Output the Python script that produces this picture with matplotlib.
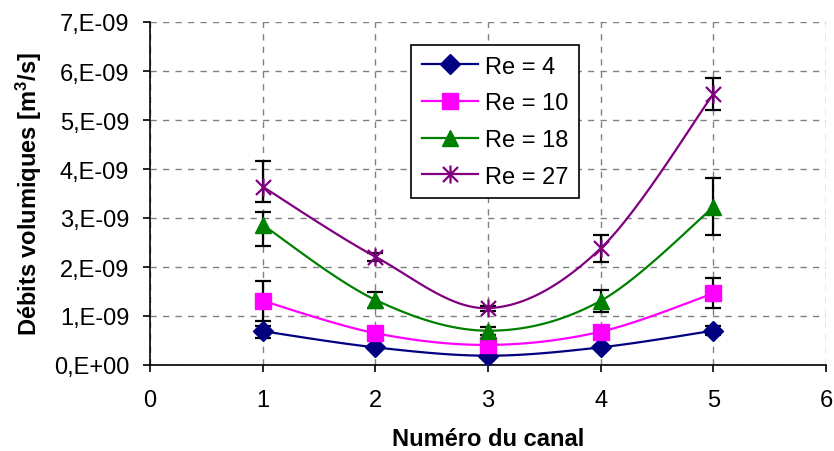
import numpy as np
import matplotlib.pyplot as plt
from matplotlib.path import Path
from matplotlib.ticker import FuncFormatter

plt.rcParams['font.family'] = ['Liberation Sans', 'DejaVu Sans']
plt.rcParams['mathtext.fontset'] = 'custom'
plt.rcParams['mathtext.rm'] = 'Liberation Sans:bold'
plt.rcParams['mathtext.bf'] = 'Liberation Sans:bold'
plt.rcParams['mathtext.default'] = 'bf'

# données : numéro du canal et débits (m3/s)
canaux = [1, 2, 3, 4, 5]
labels = ['Re = 4', 'Re = 10', 'Re = 18', 'Re = 27']
re4 = [0.69e-9, 0.36e-9, 0.19e-9, 0.36e-9, 0.70e-9]
re10 = [1.31e-9, 0.65e-9, 0.41e-9, 0.68e-9, 1.46e-9]
re18 = [2.86e-9, 1.33e-9, 0.70e-9, 1.31e-9, 3.22e-9]
re27 = [3.64e-9, 2.21e-9, 1.16e-9, 2.38e-9, 5.53e-9]
# barres d'erreur (bas, haut)
err4_bas = [0.13e-9, 0.03e-9, 0.02e-9, 0.03e-9, 0.09e-9]
err4_haut = [0.11e-9, 0.03e-9, 0.02e-9, 0.03e-9, 0.10e-9]
err10_bas = [0.41e-9, 0.05e-9, 0.03e-9, 0.05e-9, 0.30e-9]
err10_haut = [0.40e-9, 0.05e-9, 0.03e-9, 0.05e-9, 0.32e-9]
err18_bas = [0.44e-9, 0.17e-9, 0.08e-9, 0.23e-9, 0.56e-9]
err18_haut = [0.27e-9, 0.17e-9, 0.08e-9, 0.23e-9, 0.60e-9]
err27_bas = [0.32e-9, 0.08e-9, 0.05e-9, 0.28e-9, 0.33e-9]
err27_haut = [0.53e-9, 0.08e-9, 0.05e-9, 0.28e-9, 0.33e-9]

couleurs = ['#000080', '#FF00FF', '#008000', '#800080']

# marqueur étoile façon Excel (X + trait vertical)
etoile = Path([(-1, -1), (1, 1), (-1, 1), (1, -1), (0, -1.2), (0, 1.2)],
              [Path.MOVETO, Path.LINETO, Path.MOVETO, Path.LINETO, Path.MOVETO, Path.LINETO])
marqueurs = ['D', 's', '^', etoile]
tailles = [10, 11, 12, 13]


def lissage(x, y, n=30):
    # courbe lissée type Catmull-Rom (comme Excel)
    x = np.asarray(x, float)
    y = np.asarray(y, float)
    px = np.concatenate([[x[0]], x, [x[-1]]])
    py = np.concatenate([[y[0]], y, [y[-1]]])
    xs, ys = [], []
    t = np.linspace(0, 1, n)
    for i in range(1, len(px) - 2):
        for p, out in ((px, xs), (py, ys)):
            p0, p1, p2, p3 = p[i - 1], p[i], p[i + 1], p[i + 2]
            out.extend(0.5 * (2 * p1 + (-p0 + p2) * t + (2 * p0 - 5 * p1 + 4 * p2 - p3) * t ** 2
                              + (-p0 + 3 * p1 - 3 * p2 + p3) * t ** 3))
    return xs, ys


fig = plt.figure(figsize=(8.34, 4.52), dpi=100)
ax = fig.add_axes([150 / 834, 86 / 452, 676 / 834, 343 / 452])

series = [re4, re10, re18, re27]
erreurs = [(err4_bas, err4_haut), (err10_bas, err10_haut),
           (err18_bas, err18_haut), (err27_bas, err27_haut)]

for y, (eb, eh) in zip(series, erreurs):
    ax.errorbar(canaux, y, yerr=[eb, eh], fmt='none', ecolor='black',
                elinewidth=1.6, capsize=5.5, capthick=1.6, zorder=3)

for y, c, m, s, lab in zip(series, couleurs, marqueurs, tailles, labels):
    xs, ys = lissage(canaux, y)
    mew = 1.6 if m is etoile else 1
    ax.plot(xs, ys, color=c, lw=1.6, zorder=4)
    ax.plot(canaux, y, linestyle='none', marker=m, ms=s, color=c,
            markeredgecolor=c, markeredgewidth=mew, zorder=5)
    ax.plot([], [], color=c, lw=1.6, marker=m, ms=s, markeredgecolor=c,
            markeredgewidth=mew, label=lab)

ax.set_xlim(0, 6)
ax.set_ylim(0, 7e-9)
ax.set_xticks(range(0, 7))
ax.set_yticks(np.arange(0, 8) * 1e-9)
ax.yaxis.set_major_formatter(FuncFormatter(
    lambda v, p: '0,E+00' if abs(v) < 1e-15 else '%d,E-09' % round(v * 1e9)))
ax.tick_params(labelsize=17, direction='out', length=5, width=1.2)
ax.tick_params(axis='y', pad=10)
ax.tick_params(axis='x', pad=12)

ax.grid(True, color='#808080', linestyle=(0, (4.5, 4.5)), linewidth=1)
ax.set_axisbelow(True)
for sp in ['top', 'right']:
    ax.spines[sp].set_visible(False)
ax.spines['left'].set_linewidth(1.2)
ax.spines['bottom'].set_linewidth(1.2)

ax.set_xlabel('Numéro du canal', fontsize=17, fontweight='bold', labelpad=12)
ax.set_ylabel('Débits volumiques [m$^3$/s]', fontsize=17, fontweight='bold', labelpad=7)

leg = ax.legend(loc='upper left', bbox_to_anchor=(0.386, 0.933), fontsize=17,
                frameon=True, fancybox=False, framealpha=1, edgecolor='black',
                borderpad=0.45, labelspacing=0.62, handlelength=2.4, handletextpad=0.3,
                borderaxespad=0)
leg.get_frame().set_linewidth(1.2)

plt.savefig('out.png', dpi=100)
